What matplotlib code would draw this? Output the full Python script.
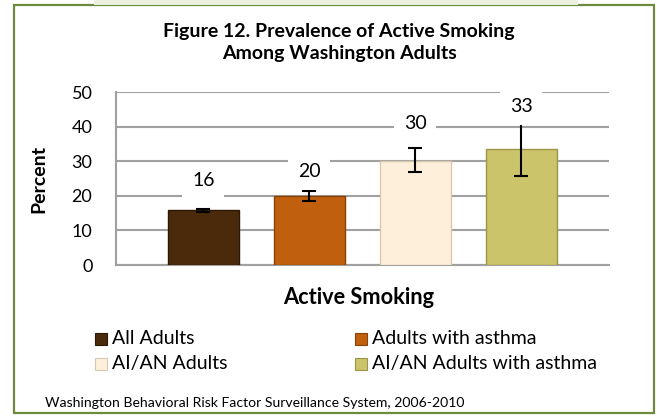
import numpy as np
import matplotlib.pyplot as plt
from matplotlib.patches import Rectangle

plt.rcParams['font.family'] = ['Lato', 'DejaVu Sans']

groups = ['All Adults', 'Adults with asthma', 'AI/AN Adults', 'AI/AN Adults with asthma']
values = [15.8, 19.9, 30.2, 33.4]
ci_low = [15.4, 18.6, 27.0, 25.7]
ci_high = [16.2, 21.4, 33.7, 41.0]
labels = ['16', '20', '30', '33']
colors = ['#4A2A0B', '#C0600F', '#FDEFD9', '#CCC46A']
edges = ['#2E1905', '#8A4208', '#D8C8B0', '#9C9448']

W, H = 657, 417
fig = plt.figure(figsize=(W / 100, H / 100), dpi=100)
renderer = fig.canvas.get_renderer()


def fx(px):
    return px / W


def fy(py):
    return 1 - py / H


def fit(t, width_px):
    # scale font so that the text spans the wanted pixel width
    w = t.get_window_extent(renderer).width
    t.set_fontsize(t.get_fontsize() * width_px / w)
    return t


# outer frame and light green strip at the top
fig.patches.append(Rectangle((fx(14), fy(413)), 640 / W, 408 / H, transform=fig.transFigure,
                             fill=False, edgecolor='#6E8A3C', linewidth=1.6))
fig.patches.append(Rectangle((fx(94), fy(5)), 484 / W, 5 / H, transform=fig.transFigure,
                             facecolor='#EBF1DE', edgecolor='none'))

ax = fig.add_axes([fx(116), fy(265), (609 - 116) / W, (265 - 92) / H])
x = np.arange(len(values))
err = [np.array(values) - np.array(ci_low), np.array(ci_high) - np.array(values)]
ax.bar(x, values, width=0.67, color=colors, edgecolor=edges, linewidth=1, zorder=3)
ax.errorbar(x, values, yerr=err, fmt='none', ecolor='black', elinewidth=1.5,
            capsize=5, capthick=1.5, zorder=4)

# value labels on white boxes
label_off = [8.1, 5.5, 7.3, 4.7]
for xi, hi, lab, off in zip(x, ci_high, labels, label_off):
    ax.text(xi, hi + off, lab, ha='center', va='center', fontsize=14, zorder=5,
            bbox=dict(facecolor='white', edgecolor='none', pad=7))

ax.set_ylim(0, 50)
ax.set_xlim(-0.825, 3.83)
ax.set_yticks(range(0, 51, 10))
ax.set_xticks([])
ax.yaxis.grid(True, color='#A0A0A0', linewidth=1.5, zorder=0)
ax.set_axisbelow(True)
for s in ['top', 'right']:
    ax.spines[s].set_visible(False)
for s in ['left', 'bottom']:
    ax.spines[s].set_color('#A0A0A0')
    ax.spines[s].set_linewidth(1.5)
ax.tick_params(axis='y', length=0, labelsize=13, pad=17)
ax.set_ylabel('Percent', fontsize=14, fontweight='bold')
ax.yaxis.set_label_coords(-0.14, 0.5)

t1 = fig.text(fx(339), fy(31), 'Figure 12. Prevalence of Active Smoking',
              ha='center', va='center', fontsize=14, fontweight='bold')
fit(t1, 352)
fig.text(fx(339), fy(54), 'Among Washington Adults', ha='center', va='center',
         fontsize=t1.get_fontsize(), fontweight='bold')

t2 = fig.text(fx(359), fy(297), 'Active Smoking', ha='center', va='center',
              fontsize=14, fontweight='bold')
fit(t2, 152)

# legend laid out in two columns
leg_x = [95, 355, 95, 355]
leg_y = [339, 339, 364, 364]
tl = fig.text(0, 0, groups[1], fontsize=14)
fit(tl, 165)
leg_fs = tl.get_fontsize()
tl.remove()
for g, c, e, lx, ly in zip(groups, colors, edges, leg_x, leg_y):
    fig.patches.append(Rectangle((fx(lx), fy(ly + 6)), 12 / W, 12 / H, transform=fig.transFigure,
                                 facecolor=c, edgecolor=e, linewidth=0.8))
    fig.text(fx(lx + 17), fy(ly), g, ha='left', va='center', fontsize=leg_fs)

t3 = fig.text(fx(45), fy(403), 'Washington Behavioral Risk Factor Surveillance System, 2006-2010',
              ha='left', va='center', fontsize=10)
fit(t3, 418)

fig.savefig('out.png', dpi=100)
